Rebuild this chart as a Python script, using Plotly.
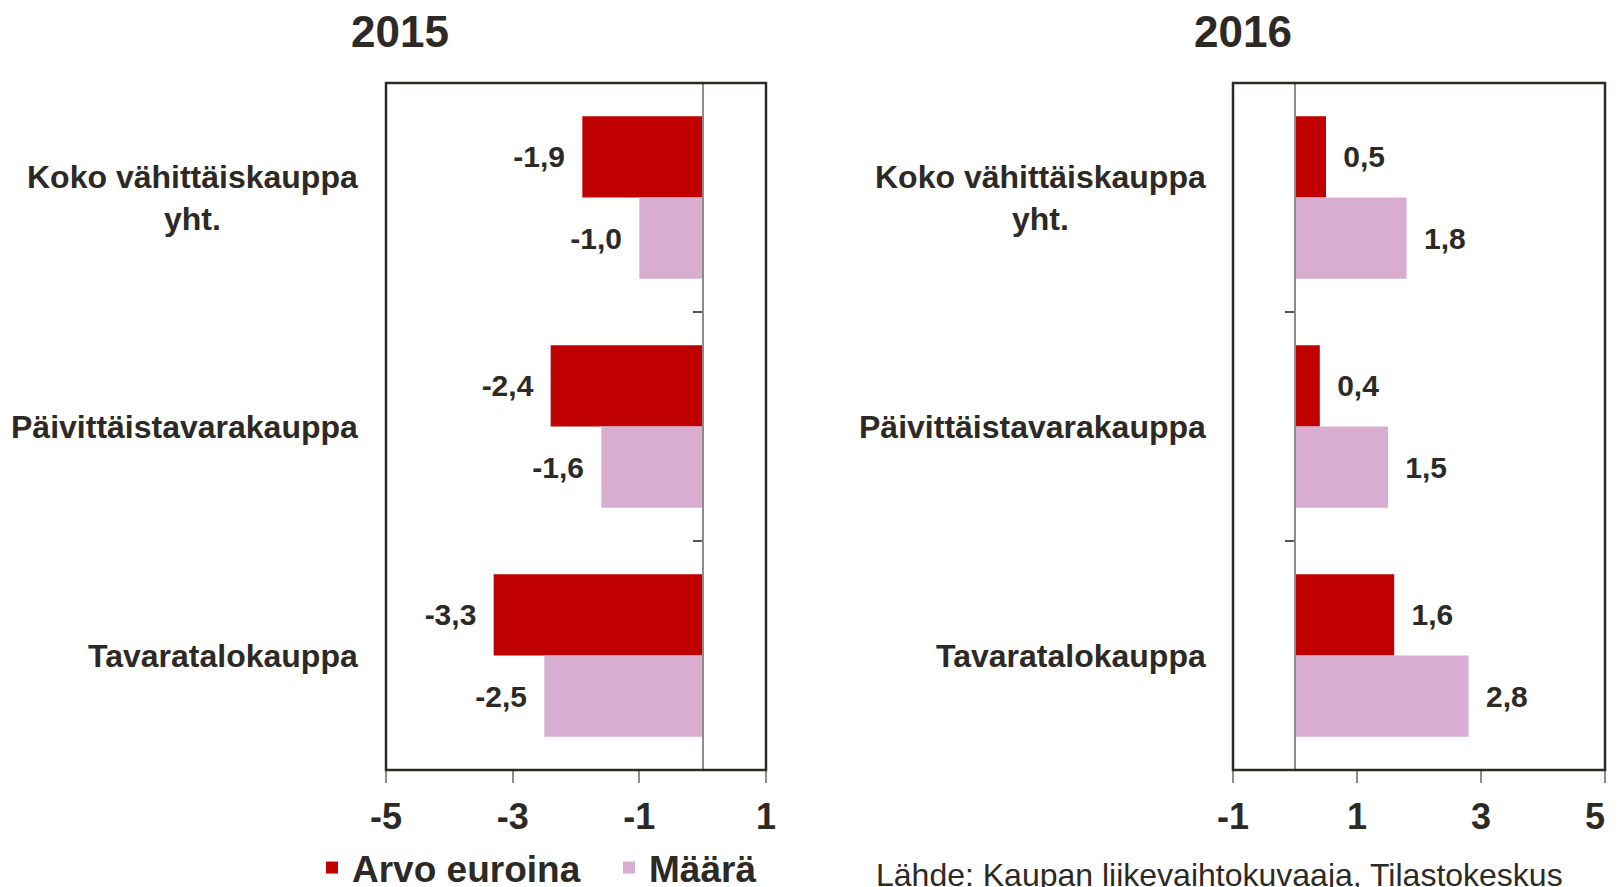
# Retail sales change chart, 2015 vs 2016
"""
Vähittäiskaupan myynnin muutos

Key Concepts:
- Two side-by-side horizontal bar panels (2015 and 2016)
- Value in euros vs. volume for three retail segments
- Comma as decimal separator in data labels
"""

import pandas as pd
import numpy as np
import plotly.graph_objects as go


# Page is drawn inside the default 8 px body margin of the html page
PAGE_OFFSET = 8
FIG_WIDTH = 1609
FIG_HEIGHT = 879

DARK = '#2d2a25'
RED = '#c00000'
PINK = '#d9adcf'
GREY = '#8c8c8c'
FONT = 'Liberation Sans, Arial, sans-serif'


def fx(px: float) -> float:
    """Window pixel column -> paper fraction"""
    return (px - PAGE_OFFSET) / FIG_WIDTH


def fy(py: float) -> float:
    """Window pixel row -> paper fraction (measured from the bottom)"""
    return 1 - (py - PAGE_OFFSET) / FIG_HEIGHT


categories = ['Koko vähittäiskauppa<br>yht.', 'Päivittäistavarakauppa', 'Tavaratalokauppa']

data = pd.DataFrame({
    'category': categories * 2,
    'year': ['2015'] * 3 + ['2016'] * 3,
    'Arvo euroina': [-1.9, -2.4, -3.3, 0.5, 0.4, 1.6],
    'Määrä': [-1.0, -1.6, -2.5, 1.8, 1.5, 2.8],
})

# year -> (axis suffix, x domain, x range, label text template, title x)
panels = {
    '2015': ('', [fx(386), fx(766)], [-5, 1], '%{x:.1f}\u00a0\u2009', fx(400)),
    '2016': ('2', [fx(1233), fx(1605)], [-1, 5], '\u2009\u00a0%{x:.1f}', fx(1243)),
}
Y_DOMAIN = [fy(770), fy(83)]


def add_panel(fig: go.Figure, year: str, show_legend: bool):
    """
    Add one year's bars, axes and category labels to the figure

    Args:
        fig: Figure to draw on
        year: Panel year, key of `panels`
        show_legend: Whether the bar traces appear in the legend
    """
    suffix, x_domain, x_range, template, title_x = panels[year]
    df = data[data['year'] == year]

    for series, color in [('Arvo euroina', RED), ('Määrä', PINK)]:
        fig.add_trace(
            go.Bar(
                x=df[series],
                y=df['category'],
                orientation='h',
                name=series,
                marker=dict(color=color, line=dict(width=0)),
                texttemplate=template,
                textposition='outside',
                textfont=dict(size=30, color=DARK, family=FONT, weight='bold'),
                cliponaxis=False,
                showlegend=show_legend,
                xaxis='x' + suffix,
                yaxis='y' + suffix,
            )
        )

    # zero line sits inside the box, so the category axis is placed there
    zero_pos = x_domain[0] + (0 - x_range[0]) / (x_range[1] - x_range[0]) * (x_domain[1] - x_domain[0])
    tick_values = list(range(x_range[0], x_range[1] + 1, 2))
    tick_text = [str(v) for v in tick_values]  # plain hyphen as minus
    if suffix:
        tick_text[-1] += '\u00a0\u00a0'  # keep the last label inside the page edge

    fig.update_layout({
        'xaxis' + suffix: dict(
            domain=x_domain,
            range=x_range,
            tickvals=tick_values,
            ticktext=tick_text,
            ticks='outside',
            ticklen=12,
            tickcolor=GREY,
            tickwidth=1.5,
            ticklabelstandoff=3,
            ticklabeloverflow='allow',
            showgrid=False,
            zeroline=False,
            showline=False,
            anchor='y' + suffix,
            tickfont=dict(size=36, color=DARK, family=FONT, weight='bold'),
        ),
        'yaxis' + suffix: dict(
            domain=Y_DOMAIN,
            type='category',
            categoryarray=categories,
            range=[2.5, -0.5],
            anchor='free',
            position=zero_pos,
            showline=True,
            linecolor=GREY,
            linewidth=1.5,
            ticks='outside',
            tickson='boundaries',
            ticklen=9,
            tickcolor='#555555',
            tickwidth=1.5,
            showticklabels=False,
            showgrid=False,
        ),
    })

    # plot box
    fig.add_shape(
        type='rect',
        xref='x' + suffix + ' domain', yref='y' + suffix + ' domain',
        x0=0, x1=1, y0=0, y1=1,
        line=dict(color=DARK, width=2.5),
    )

    # category labels, lines centred on each other
    for category in categories:
        fig.add_annotation(
            xref='x' + suffix + ' domain', yref='y' + suffix,
            x=-0.068, y=category,
            text=category,
            xanchor='right', yanchor='middle', align='center',
            showarrow=False,
            font=dict(size=32, color=DARK, family=FONT, weight='bold'),
        )

    # panel title
    fig.add_annotation(
        xref='paper', yref='paper',
        x=title_x, y=fy(31),
        text=year,
        xanchor='center', yanchor='middle',
        showarrow=False,
        font=dict(size=44, color=DARK, family=FONT, weight='bold'),
    )


fig = go.Figure()
add_panel(fig, '2015', show_legend=True)
add_panel(fig, '2016', show_legend=False)

# ── Source note ───────────────────────────────────────────────────────────
fig.add_annotation(
    xref='paper', yref='paper',
    x=fx(874), y=fy(875),
    text='Lähde: Kaupan liikevaihtokuvaaja, Tilastokeskus',
    xanchor='left', yanchor='middle',
    showarrow=False,
    font=dict(size=32, color=DARK, family=FONT),
)

fig.update_layout(
    width=FIG_WIDTH,
    height=FIG_HEIGHT,
    margin=dict(l=0, r=0, t=0, b=0, autoexpand=False),
    barmode='group',
    bargap=0.29,
    bargroupgap=0,
    separators=', ',
    template='plotly_white',
    plot_bgcolor='white',
    paper_bgcolor='white',
    showlegend=True,
    legend=dict(
        orientation='h',
        x=fx(312), y=fy(899),
        xanchor='left', yanchor='bottom',
        font=dict(size=37, color=DARK, family=FONT, weight='bold'),
        entrywidth=252,
        bgcolor='rgba(0,0,0,0)',
    ),
    font=dict(family=FONT, color=DARK),
)

fig.write_html("out.html")
